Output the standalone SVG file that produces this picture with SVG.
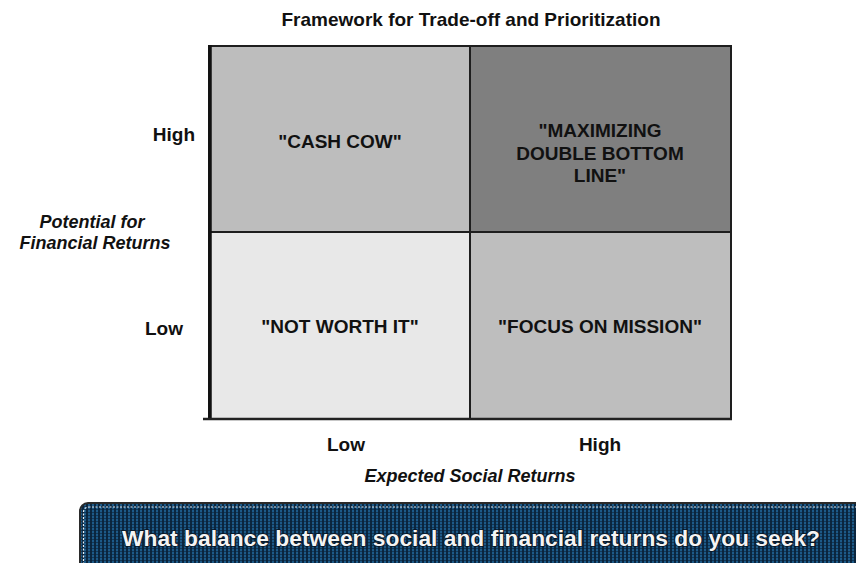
<svg xmlns="http://www.w3.org/2000/svg" width="856" height="563" viewBox="0 0 856 563">
<style>
  text { font-family: "Liberation Sans", Arial, sans-serif; font-weight: bold; fill: #111; }
  .lbl { font-size: 19px; }
  .axis { font-size: 18px; font-style: italic; }
  .cell { stroke: #1e1e1e; stroke-width: 2; }
  .q { font-size: 19px; text-anchor: middle; }
</style>
<defs>
  <pattern id="stripes" x="0" y="0" width="4" height="3" patternUnits="userSpaceOnUse">
    <rect width="4" height="3" fill="#0b2740"/>
    <rect x="0" y="0" width="2" height="3" fill="#1d5a88"/>
    <rect x="0" y="2" width="4" height="1" fill="#0a2238" opacity="0.6"/>
  </pattern>
</defs>
<rect width="856" height="563" fill="#ffffff"/>

<text x="471" y="26" class="lbl" text-anchor="middle">Framework for Trade-off and Prioritization</text>

<g id="cash-cow">
  <rect x="209" y="46" width="261" height="186" fill="#bdbdbd" class="cell"/>
  <text x="340" y="148" class="q">"CASH COW"</text>
</g>
<g id="maximizing">
  <rect x="470" y="46" width="261" height="186" fill="#7f7f7f" class="cell"/>
  <text class="q"><tspan x="600" y="137">"MAXIMIZING</tspan><tspan x="600" y="160">DOUBLE BOTTOM</tspan><tspan x="600" y="182">LINE"</tspan></text>
</g>
<g id="not-worth-it">
  <rect x="209" y="232" width="261" height="187" fill="#e8e8e8" class="cell"/>
  <text x="340" y="333" class="q">"NOT WORTH IT"</text>
</g>
<g id="focus-on-mission">
  <rect x="470" y="232" width="261" height="187" fill="#bebebe" class="cell"/>
  <text x="600" y="333" class="q">"FOCUS ON MISSION"</text>
</g>

<g id="connectors">
  <line x1="210" y1="45" x2="210" y2="420" stroke="#111" stroke-width="3.5"/>
  <line x1="203" y1="419" x2="732" y2="419" stroke="#222" stroke-width="2.5"/>
</g>

<g id="y-axis">
  <text x="195" y="141" class="lbl" text-anchor="end">High</text>
  <text x="183" y="335" class="lbl" text-anchor="end">Low</text>
  <text class="axis" text-anchor="middle"><tspan x="92" y="228">Potential for</tspan><tspan x="95" y="249">Financial Returns</tspan></text>
</g>
<g id="x-axis">
  <text x="346" y="451" class="lbl" text-anchor="middle">Low</text>
  <text x="600" y="451" class="lbl" text-anchor="middle">High</text>
  <text x="470" y="482" class="axis" text-anchor="middle">Expected Social Returns</text>
</g>

<g id="question">
  <rect x="80" y="503" width="800" height="80" rx="8" ry="8" fill="url(#stripes)" stroke="#2a2a2a" stroke-width="2"/>
  <rect x="83.5" y="507" width="800" height="80" rx="5" ry="5" fill="none" stroke="#e6eef5" stroke-width="1.2" stroke-dasharray="2 1.5"/>
  <text x="471" y="546" font-size="22" text-anchor="middle" textLength="698" lengthAdjust="spacingAndGlyphs" style="fill:#f4f4f4;stroke:#06121f;stroke-width:1.5;paint-order:stroke">What balance between social and financial returns do you seek?</text>
</g>
</svg>
